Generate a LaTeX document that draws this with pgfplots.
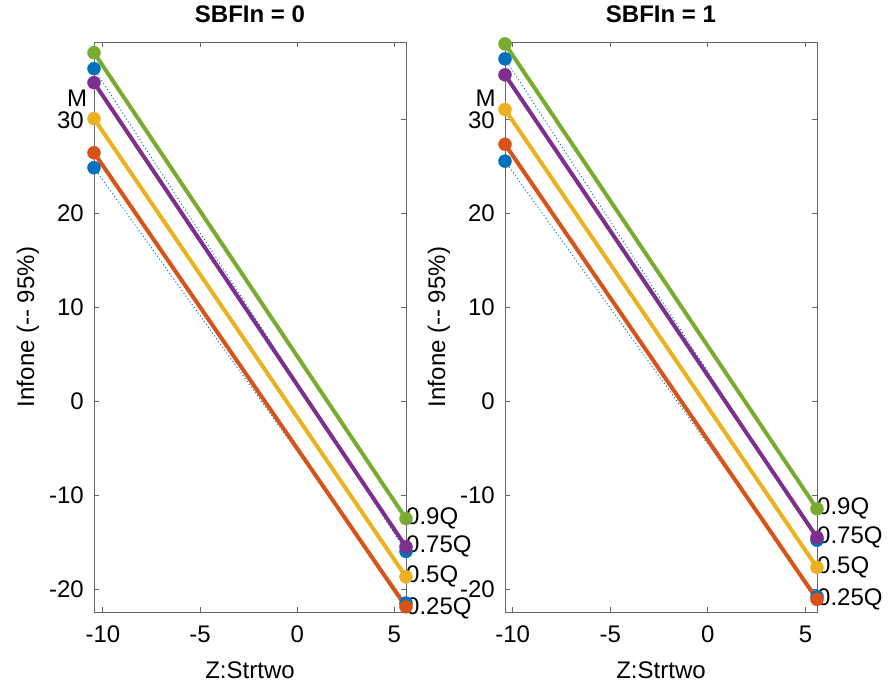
\documentclass[border=0pt]{standalone}
\usepackage{fontspec}
\setmainfont{Liberation Sans}
\usepackage{pgfplots}
\pgfplotsset{compat=1.18}

\definecolor{mblue}{rgb}{0,0.447,0.741}
\definecolor{morange}{rgb}{0.850,0.325,0.098}
\definecolor{myellow}{rgb}{0.929,0.694,0.125}
\definecolor{mpurple}{rgb}{0.494,0.184,0.556}
\definecolor{mgreen}{rgb}{0.466,0.674,0.188}
\newcommand\mfont{\fontsize{24}{28}\selectfont}

\tikzset{qlab/.style={font=\mfont, anchor=west, inner sep=0pt}}

\pgfplotsset{
  panel/.style={
    scale only axis, width=312pt, height=570pt,
    anchor=south west, clip=false,
    ymin=-22.45, ymax=38.3,
    xtick={-10,-5,0,5}, ytick={-20,-10,0,10,20,30},
    axis line style={black!60, line width=0.9pt},
    tick style={black!60, line width=0.9pt},
    tick align=inside, major tick length=5pt,
    /pgf/number format/assume math mode=true,
    ticklabel style={font=\mfont, inner sep=0pt},
    xticklabel style={anchor=base, yshift=-31pt},
    yticklabel style={anchor=east, xshift=-10pt},
    xlabel={Z:Strtwo}, ylabel={Infone (-{}- 95\%)},
    xlabel style={font=\mfont, at={(axis description cs:0.5,-0.1158)}, anchor=base, inner sep=0pt},
    ylabel style={font=\mfont, at={(axis description cs:-0.1917,0.5)}, anchor=base, inner sep=0pt},
    title style={font=\mfont\bfseries, at={(axis description cs:0.5,1.0228)}, anchor=base, inner sep=0pt},
  },
  ci/.style={mblue, line width=1pt, dash pattern=on 1pt off 2.5pt},
  dots/.style={only marks, mark=*, mark size=6.5pt, mblue},
  qline/.style={#1, line width=4pt, mark=*, mark size=6.5pt, mark options={solid, line width=0.4pt}},
}

\begin{document}
\begin{tikzpicture}
\path (0,0) rectangle (895pt,687pt);

\begin{axis}[panel, at={(94pt,75pt)}, xmin=-10.46, xmax=5.6, title={SBFIn = 0}]
\addplot[ci] coordinates {(-10.46,35.46) (5.6,-16.0)};
\addplot[ci] coordinates {(-10.46,24.90) (5.6,-21.5)};
\addplot[dots] coordinates {(-10.46,35.46) (-10.46,24.90) (5.6,-16.0) (5.6,-21.5)};
\addplot[qline=morange] coordinates {(-10.46,26.50) (5.6,-21.9)};
\addplot[qline=myellow] coordinates {(-10.46,30.13) (5.6,-18.7)};
\addplot[qline=mpurple] coordinates {(-10.46,33.97) (5.6,-15.5)};
\addplot[qline=mgreen] coordinates {(-10.46,37.16) (5.6,-12.5)};
\node[font=\mfont, inner sep=0pt, anchor=south] at (axis cs:-11.33,31.4) {M};
\node[qlab] at (axis cs:5.6,-12.5) {0.9Q};
\node[qlab] at (axis cs:5.6,-15.5) {0.75Q};
\node[qlab] at (axis cs:5.6,-18.7) {0.5Q};
\node[qlab] at (axis cs:5.6,-22.05) {0.25Q};
\end{axis}

\begin{axis}[panel, at={(505pt,75pt)}, xmin=-10.39, xmax=5.59, title={SBFIn = 1}]
\addplot[ci] coordinates {(-10.39,36.5) (5.59,-14.8)};
\addplot[ci] coordinates {(-10.39,25.6) (5.59,-20.8)};
\addplot[dots] coordinates {(-10.39,36.5) (-10.39,25.6) (5.59,-14.8) (5.59,-20.8)};
\addplot[qline=morange] coordinates {(-10.39,27.4) (5.59,-21.1)};
\addplot[qline=myellow] coordinates {(-10.39,31.1) (5.59,-17.7)};
\addplot[qline=mpurple] coordinates {(-10.39,34.8) (5.59,-14.5)};
\addplot[qline=mgreen] coordinates {(-10.39,38.1) (5.59,-11.45)};
\node[font=\mfont, inner sep=0pt, anchor=south] at (axis cs:-11.38,31.45) {M};
\node[qlab] at (axis cs:5.59,-11.45) {0.9Q};
\node[qlab] at (axis cs:5.59,-14.5) {0.75Q};
\node[qlab] at (axis cs:5.59,-17.7) {0.5Q};
\node[qlab] at (axis cs:5.59,-21.1) {0.25Q};
\end{axis}
\end{tikzpicture}
\end{document}
